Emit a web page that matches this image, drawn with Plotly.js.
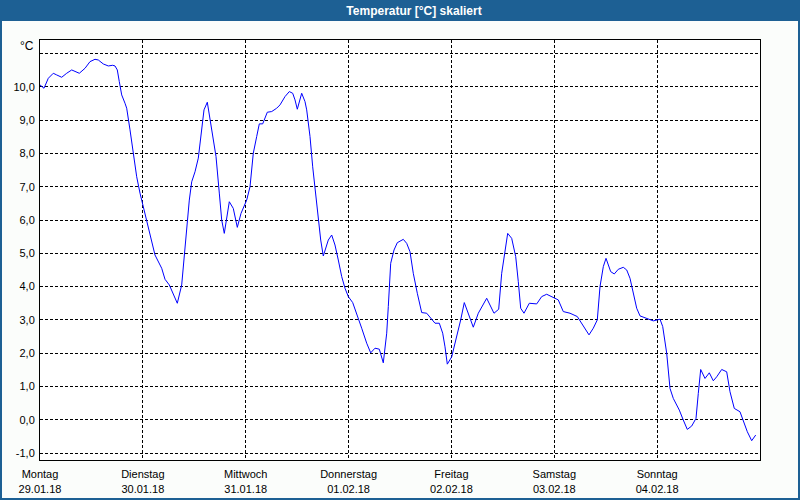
<!DOCTYPE html>
<html>
<head>
<meta charset="utf-8">
<script src="https://cdn.plot.ly/plotly-3.0.1.min.js"></script>
<style>
  html, body { margin: 0; padding: 0; background: #fbfdfb; }
  #chart { width: 800px; height: 500px; }
</style>
</head>
<body>
<div id="chart"></div>
<script>
// Hours since Monday 29.01.18 00:00
const hours = [
  0.0, 0.93, 1.94, 3.10, 3.90, 5.06, 6.23, 7.40, 9.17, 10.5, 11.67, 12.83, 13.6, 14.77, 15.94, 16.96, 17.5, 18.04, 18.5, 19.06,
  19.83, 20.23, 21.0, 21.77, 22.56, 23.33, 24.1, 24.9, 25.83, 26.83, 28.4, 29.17, 30.17, 31.1, 32.04, 33.06, 33.83, 34.84, 35.4, 36.17,
  36.94, 37.73, 38.27, 39.04, 39.67, 40.3, 41.07, 41.84, 42.4, 43.0, 43.56, 44.17, 45.1, 46.04, 46.9, 48.23, 49.0, 49.77, 50.56, 51.17,
  51.96, 53.04, 54.06, 55.23, 56.0, 57.17, 58.17, 58.96, 59.5, 60.04, 61.06, 61.83, 62.23, 63.0, 63.63, 64.17, 64.94, 65.5, 66.1, 66.73,
  67.27, 68.06, 68.83, 69.6, 70.4, 71.17, 71.94, 72.96, 73.9, 75.06, 76.23, 77.16, 78.17, 79.17, 80.1, 80.9, 81.27, 81.83, 82.6, 83.37,
  84.77, 85.56, 86.33, 87.1, 88.04, 89.06, 90.23, 91.4, 92.17, 93.17, 93.96, 94.5, 95.04, 96.06, 97.23, 98.16, 99.0, 99.94, 101.1, 102.27,
  104.23, 105.93, 107.03, 107.73, 108.5, 109.13, 110.06, 111.0, 111.6, 112.16, 112.93, 114.17, 115.9, 117.06, 118.23, 119.63, 120.93, 122.1, 123.67, 125.37,
  126.77, 128.1, 129.1, 130.04, 130.67, 131.44, 132.07, 133.16, 134.0, 134.93, 136.1, 136.9, 137.67, 138.43, 139.23, 140.0, 141.56, 143.1, 144.67, 145.3,
  146.23, 147.0, 147.77, 149.17, 150.1, 151.03, 152.06, 153.07, 153.6, 154.16, 155.17, 156.17, 157.1, 157.9, 159.06, 160.23, 161.0, 162.0, 163.33, 164.1,
  165.04, 166.06, 167.0
];
const temperature = [
  10.06, 9.96, 10.26, 10.41, 10.36, 10.29, 10.41, 10.51, 10.41, 10.56, 10.76, 10.83, 10.81, 10.69, 10.63, 10.65, 10.63, 10.51, 10.16, 9.76,
  9.51, 9.36, 8.71, 7.96, 7.30, 6.81, 6.40, 5.95, 5.40, 4.95, 4.55, 4.22, 4.05, 3.75, 3.50, 4.05, 5.20, 6.60, 7.15, 7.45,
  7.86, 8.71, 9.31, 9.54, 9.01, 8.51, 7.91, 6.81, 6.00, 5.60, 6.00, 6.55, 6.35, 5.78, 6.20, 6.60, 7.00, 8.01, 8.51, 8.89,
  8.89, 9.24, 9.26, 9.36, 9.46, 9.71, 9.86, 9.81, 9.61, 9.33, 9.81, 9.56, 9.31, 8.51, 7.60, 6.90, 6.00, 5.40, 4.92, 5.20,
  5.40, 5.55, 5.25, 4.80, 4.30, 3.95, 3.70, 3.52, 3.20, 2.75, 2.30, 2.01, 2.15, 2.12, 1.71, 2.60, 3.40, 4.70, 5.10, 5.32,
  5.42, 5.30, 5.05, 4.40, 3.80, 3.22, 3.20, 3.02, 2.90, 2.90, 2.60, 2.19, 1.67, 1.89, 2.49, 3.00, 3.52, 3.20, 2.78, 3.20,
  3.65, 3.20, 3.32, 4.40, 5.15, 5.60, 5.45, 4.90, 4.15, 3.35, 3.20, 3.50, 3.48, 3.70, 3.77, 3.68, 3.60, 3.25, 3.20, 3.10,
  2.80, 2.55, 2.75, 3.00, 4.00, 4.60, 4.85, 4.45, 4.38, 4.52, 4.58, 4.50, 4.25, 3.85, 3.35, 3.12, 3.05, 2.97, 3.02, 2.80,
  2.00, 0.94, 0.64, 0.29, -0.01, -0.29, -0.19, 0.04, 0.79, 1.51, 1.24, 1.41, 1.17, 1.29, 1.51, 1.44, 0.84, 0.34, 0.24, -0.01,
  -0.36, -0.63, -0.46
];

const dayTicks = [0, 24, 48, 72, 96, 120, 144];
const dayNames = ["Montag", "Dienstag", "Mittwoch", "Donnerstag", "Freitag", "Samstag", "Sonntag"];
const dayDates = ["29.01.18", "30.01.18", "31.01.18", "01.02.18", "02.02.18", "03.02.18", "04.02.18"];
const yTicks = [-1, 0, 1, 2, 3, 4, 5, 6, 7, 8, 9, 10, 11];
const yTickText = ["-1,0", "0,0", "1,0", "2,0", "3,0", "4,0", "5,0", "6,0", "7,0", "8,0", "9,0", "10,0", ""];

const font = "Liberation Sans, Arial, sans-serif";

const trace = {
  x: hours,
  y: temperature,
  type: "scatter",
  mode: "lines",
  line: { color: "#0000ff", width: 1 },
  hoverinfo: "skip"
};

const layout = {
  width: 800,
  height: 500,
  margin: { l: 40, r: 40, t: 40, b: 40, pad: 0 },
  paper_bgcolor: "#fbfdfb",
  plot_bgcolor: "#ffffff",
  showlegend: false,
  font: { family: font, size: 11, color: "#000000" },
  title: {
    text: "<b>Temperatur [°C] skaliert</b>",
    font: { family: font, size: 12, color: "#ffffff" },
    xref: "container", yref: "container",
    x: 414 / 800, y: 1 - 11 / 500,
    xanchor: "center", yanchor: "middle"
  },
  xaxis: {
    range: [0, 168],
    tickmode: "array",
    tickvals: dayTicks,
    ticktext: dayNames.map((d, i) => d + "<br>" + dayDates[i]),
    showgrid: true,
    gridcolor: "#000000",
    gridwidth: 1,
    griddash: "3px,2px",
    zeroline: false,
    showline: true,
    linecolor: "#000000",
    linewidth: 1,
    mirror: true,
    ticks: "",
    ticklabelstandoff: 4,
    fixedrange: true
  },
  yaxis: {
    range: [-1.21, 11.41],
    tickmode: "array",
    tickvals: yTicks,
    ticktext: yTickText,
    showgrid: true,
    gridcolor: "#000000",
    gridwidth: 1,
    griddash: "3px,2px",
    zeroline: false,
    showline: true,
    linecolor: "#000000",
    linewidth: 1,
    mirror: true,
    ticks: "",
    ticklabelstandoff: 2,
    fixedrange: true
  },
  shapes: [
    { type: "rect", xref: "paper", yref: "paper",
      x0: -40 / 720, x1: 760 / 720, y0: (460 - 21) / 420, y1: 460 / 420,
      fillcolor: "#1d6094", line: { width: 0 }, layer: "below" },
    { type: "rect", xref: "paper", yref: "paper",
      x0: -40 / 720, x1: -38 / 720, y0: -40 / 420, y1: 460 / 420,
      fillcolor: "#1d6094", line: { width: 0 }, layer: "below" },
    { type: "rect", xref: "paper", yref: "paper",
      x0: 758 / 720, x1: 760 / 720, y0: -40 / 420, y1: 460 / 420,
      fillcolor: "#1d6094", line: { width: 0 }, layer: "below" },
    { type: "rect", xref: "paper", yref: "paper",
      x0: -40 / 720, x1: 760 / 720, y0: -40 / 420, y1: -38 / 420,
      fillcolor: "#1d6094", line: { width: 0 }, layer: "below" }
  ],
  annotations: [
    { text: "°C", xref: "paper", yref: "paper",
      x: -4 / 720, y: (460 - 46) / 420, xanchor: "right", yanchor: "middle",
      showarrow: false, font: { family: font, size: 12, color: "#000000" } }
  ]
};

Plotly.newPlot("chart", [trace], layout, { staticPlot: true, displayModeBar: false });
</script>
</body>
</html>
